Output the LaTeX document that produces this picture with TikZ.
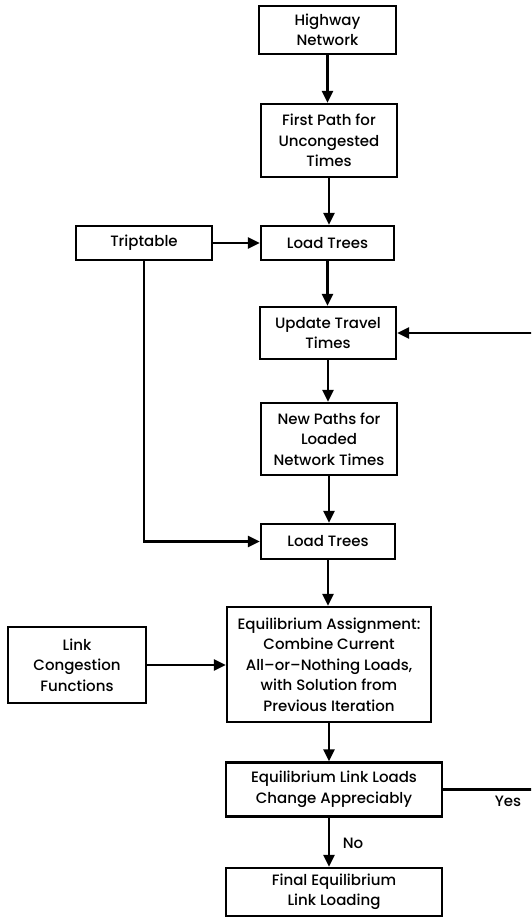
\documentclass[tikz,border=0pt]{standalone}
\usepackage{fontspec}
\setmainfont{Poppins Medium}
\usetikzlibrary{arrows.meta}
\begin{document}
\begin{tikzpicture}[x=1pt,y=-1pt,
  box/.style={draw,line width=2.2pt,align=center,inner sep=0pt,font=\fontsize{15}{20.5}\selectfont},
  conn/.style={line width=2.4pt},
  arr/.style={conn,-{Triangle[length=12pt,width=11pt]}},
  lbl/.style={font=\fontsize{15}{18}\selectfont}]
\clip (0,0) rectangle (531,918);
\fill[white] (0,0) rectangle (531,918);
\node[box,minimum width=137pt,minimum height=48pt] (hw) at (327.5,30) {Highway\\Network};
\node[box,minimum width=136pt,minimum height=73pt] (fp) at (329,140.5) {First Path for\\Uncongested\\Times};
\node[box,minimum width=133pt,minimum height=34pt] (lt1) at (327.5,243) {Load Trees};
\node[box,minimum width=136pt,minimum height=34pt] (trip) at (144,243) {Triptable};
\node[box,minimum width=136pt,minimum height=52pt] (utt) at (328,333) {Update Travel\\Times};
\node[box,minimum width=136pt,minimum height=72pt] (np) at (329,439) {New Paths for\\Loaded\\Network Times};
\node[box,minimum width=134pt,minimum height=35pt] (lt2) at (328,541.5) {Load Trees};
\node[box,minimum width=204pt,minimum height=115pt] (ea) at (329,664.5) {Equilibrium Assignment:\\Combine Current\\All--or--Nothing Loads,\\with Solution from\\Previous Iteration};
\node[box,minimum width=138pt,minimum height=76pt] (lcf) at (77,665) {Link\\Congestion\\Functions};
\node[box,minimum width=216pt,minimum height=54pt] (ell) at (334,789.5) {Equilibrium Link Loads\\Change Appreciably};
\node[box,minimum width=216pt,minimum height=48pt] (fin) at (334,892) {Final Equilibrium\\Link Loading};
\coordinate (loopR) at (545,789.5);
\node[lbl] (yes) at (508,801) {Yes};
\node[lbl] (no) at (353,843) {No};
\draw[arr] (hw) -- (hw |- fp.north);
\draw[arr] (fp) -- (fp |- lt1.north);
\draw[arr] (trip) -- (lt1);
\draw[arr] (lt1) -- (lt1 |- utt.north);
\draw[arr] (utt) -- (utt |- np.north);
\draw[arr] (np) -- (np |- lt2.north);
\draw[arr] (trip.south) -- (trip.south |- lt2) -- (lt2.west);
\draw[arr] (lt2) -- (lt2 |- ea.north);
\draw[arr] (lcf) -- (lcf -| ea.west);
\draw[arr] (ea.south) -- (ea.south |- ell.north);
\draw[arr] (ea.south |- ell.south) -- (ea.south |- fin.north);
\draw[arr] (ell.east) -- (loopR) |- (utt.east);
\end{tikzpicture}
\end{document}
